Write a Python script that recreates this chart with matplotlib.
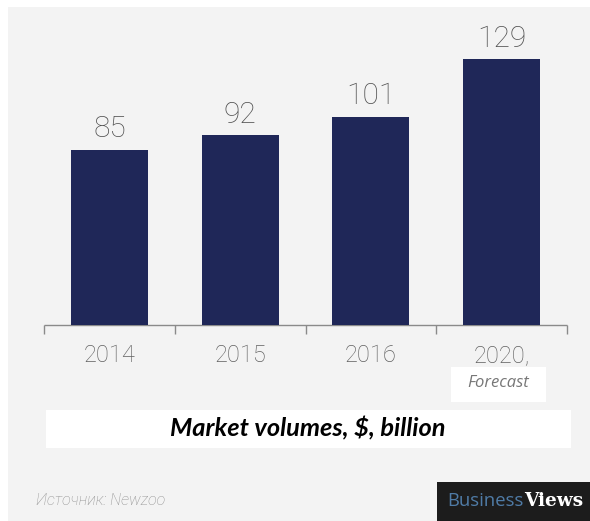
import matplotlib
matplotlib.use("Agg")
import matplotlib.pyplot as plt
from matplotlib.patches import Rectangle

# Data
years = ["2014", "2015", "2016", "2020,"]
volumes = [85, 92, 101, 129]
value_labels = ["85", "92", "101", "129"]
forecast_note = "Forecast"
title = "Market volumes, $, billion"
source = "Источник: Newzoo"

W, H = 590, 521
fig = plt.figure(figsize=(W / 100, H / 100), dpi=100, facecolor="white")


def fx(px):
    return px / W


def fy(py):
    return 1 - py / H


def box(x0, y0, x1, y1, color, z):
    fig.patches.append(Rectangle((fx(x0), fy(y1)), fx(x1) - fx(x0), fy(y0) - fy(y1),
                                 transform=fig.transFigure, facecolor=color,
                                 edgecolor="none", zorder=z))


# light grey panel
box(8, 7, W, H, "#f3f3f3", 0)

ax = fig.add_axes([0, 0, 1, 1])
ax.set_zorder(2)
ax.set_axis_off()
ax.patch.set_alpha(0)
ax.set_xlim(-0.839, 3.678)
ax.set_ylim(-95.15, 157.77)

x = list(range(len(years)))
ax.bar(x, volumes, width=0.59, color="#1f2758", zorder=3)

# value labels
for xi, v, lab in zip(x, volumes, value_labels):
    ax.annotate(lab, (xi, v), xytext=(0, 9.0), textcoords="offset points",
                ha="center", va="baseline", fontsize=21.5, fontfamily="Roboto",
                fontweight="light", color="#505050")

# baseline with bin ticks
edges = [i - 0.5 for i in range(len(years) + 1)]
ax.plot([edges[0], edges[-1]], [0, 0], color="#8a8a8a", lw=1.0, zorder=2,
        solid_capstyle="butt")
ax.vlines(edges, -4.4, 0, color="#8a8a8a", lw=1.0, zorder=2)

# category labels
for xi, yr in zip(x, years):
    ax.text(xi, -17.8, yr, ha="center", va="baseline", fontsize=17,
            fontfamily="Roboto", fontweight="light", color="#606060")

# forecast note box
box(451, 367, 546, 402, "white", 1)
fig.text(fx(498), fy(387), forecast_note, ha="center", va="baseline", fontsize=12,
         fontfamily="Open Sans", style="italic", color="#777777", zorder=4)

# title box
box(46, 410, 571, 448, "white", 1)
fig.text(fx(308), fy(436.5), title, ha="center", va="baseline", fontsize=18.3,
         fontfamily="Lato", fontweight="bold", style="italic", color="black", zorder=4)

# source line
fig.text(fx(36), fy(505), source, ha="left", va="baseline", fontsize=11.5,
         fontfamily="Roboto", fontweight="light", style="italic", color="#909090",
         zorder=4)

# logo block
box(437, 482, W, H, "#1c1c1c", 1)
t1 = fig.text(fx(447), fy(506), "Business", ha="left", va="baseline", fontsize=13.3,
              fontfamily="Open Sans", color="#4f7ba6", zorder=4)
fig.canvas.draw()
bb = t1.get_window_extent()
fig.text(bb.x1 / W + 0.001, fy(506), "Views", ha="left", va="baseline", fontsize=13.3,
         fontfamily="DejaVu Serif", fontweight="bold", color="white", zorder=4)

fig.savefig("out.png", dpi=100, facecolor=fig.get_facecolor())
